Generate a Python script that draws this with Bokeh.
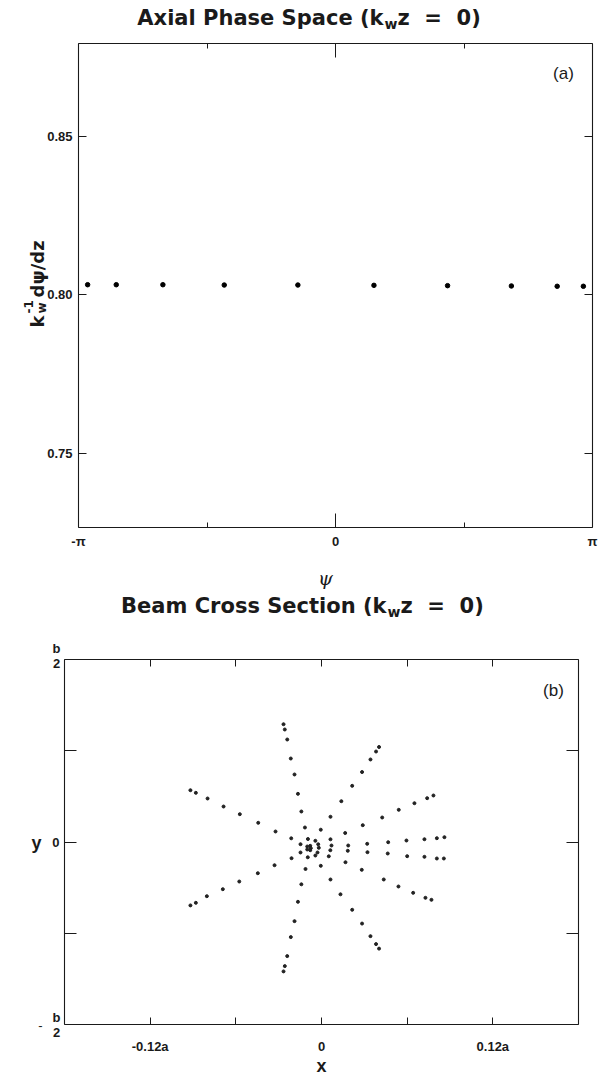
import math
from bokeh.plotting import figure
from bokeh.layouts import column
from bokeh.models import Range1d, Label, LinearAxis, FixedTicker
from bokeh.embed import file_html
from bokeh.resources import INLINE

# ---------------- data ----------------
# (a) axial phase space of the test electrons at k_w z = 0
psi = [-3.03, -2.68, -2.11, -1.36, -0.46, 0.47, 1.37, 2.15, 2.71, 3.03]
dpsi_dz = [0.8031, 0.8031, 0.8031, 0.8030, 0.8030, 0.8029, 0.8028, 0.8027, 0.8026, 0.8026]
psi_ticks = [-math.pi, 0.0, math.pi]
psi_minor_ticks = [-math.pi / 2, math.pi / 2]
psi_tick_labels = ["-π", "0", "π"]
dpsi_ticks = [0.75, 0.80, 0.85]
dpsi_tick_labels = ["0.75", "0.80", "0.85"]

# (b) beam cross section: x in units of a, y in units of b
x_a = [-0.0266, -0.0257, -0.0240, -0.0215, -0.0189, -0.0165, -0.0141, -0.0116, -0.0212,
       -0.0918, -0.0880, -0.0798, -0.0686, -0.0572, -0.0443, -0.0322,
       0.0139, 0.0063, -0.0005, 0.0166, 0.0063, -0.0095, -0.0043, -0.0147, -0.0023,
       0.0070, 0.0187, -0.0100, -0.0079, -0.0075, -0.0100, -0.0079, -0.0019, 0.0062,
       0.0184, -0.0147, -0.0028, -0.0043, 0.0051, -0.0096, -0.0210, 0.0168, -0.0005,
       -0.0329, -0.0112, -0.0446, 0.0063, -0.0141, -0.0576, -0.0691, 0.0133, -0.0803,
       0.0215, 0.0784, 0.0740, 0.0651, 0.0541, 0.0425, 0.0289,
       0.0320, 0.0467, 0.0595, 0.0721, 0.0808, 0.0861,
       0.0322, 0.0464, 0.0600, 0.0721, 0.0808, 0.0857,
       0.0282, 0.0436, 0.0539, 0.0642, 0.0728, 0.0770,
       0.0284, 0.0343, 0.0382, 0.0403,
       0.0215, 0.0284, 0.0343, 0.0382, 0.0403,
       -0.0165, -0.0189, -0.0215, -0.0240, -0.0257, -0.0266,
       -0.0880, -0.0918]
y_b = [0.3227, 0.3082, 0.2808, 0.2287, 0.1850, 0.1320, 0.0836, 0.0397, 0.0101,
       0.1419, 0.1348, 0.1192, 0.0972, 0.0762, 0.0526, 0.0288,
       0.1118, 0.0691, 0.0337, 0.0247, 0.0074, 0.0082, 0.0033, -0.0060, -0.0063,
       -0.0096, -0.0096, -0.0123, -0.0105, -0.0170, -0.0205, -0.0225, -0.0159, -0.0225,
       -0.0241, -0.0287, -0.0287, -0.0370, -0.0392, -0.0419, -0.0444, -0.0554, -0.0652,
       -0.0636, -0.0739, -0.0855, -0.1027, -0.1159, -0.1083, -0.1293, -0.1433, -0.1485,
       0.1539, 0.1274, 0.1200, 0.1063, 0.0882, 0.0671, 0.0461,
       -0.0049, -0.0006, 0.0041, 0.0076, 0.0104, 0.0132,
       -0.0279, -0.0315, -0.0389, -0.0406, -0.0452, -0.0452,
       -0.0762, -0.1027, -0.1219, -0.1392, -0.1529, -0.1584,
       0.1917, 0.2261, 0.2479, 0.2603,
       -0.1857, -0.2235, -0.2579, -0.2797, -0.2921,
       -0.1638, -0.2168, -0.2605, -0.3126, -0.3400, -0.3545,
       -0.1666, -0.1737]
x_ticks = [-0.12, 0.0, 0.12]
x_minor_ticks = [-0.06, 0.06]
x_tick_labels = ["-0.12a", "0", "0.12a"]
y_ticks = [-0.5, -0.25, 0.0, 0.25, 0.5]
y_tick_labels = ["", "", "0", "", ""]

# ---------------- styling ----------------
SANS = "Liberation Sans"
HEAD = "DejaVu Sans"
INK = "#1a1a1a"
W = 601
NB = "\u00a0"  # non-breaking space keeps the wide spacing around "="

PSI_BOX = (-math.pi, math.pi)
DPSI_BOX = (0.7265, 0.8792)
X_BOX = (-0.18, 0.18)
Y_BOX = (-0.5, 0.5)


class Panel:
    """A figure whose frame fills the canvas; the boxed plot area sits at
    the given canvas pixels and its axes are pinned to the box edges."""

    def __init__(self, height, box_px, xb, yb):
        l, r, t, b = box_px
        self.h, self.box, self.xb, self.yb = height, box_px, xb, yb
        self.kx = (xb[1] - xb[0]) / (r - l)
        self.ky = (yb[1] - yb[0]) / (b - t)
        xr = Range1d(xb[0] - l * self.kx, xb[1] + (W - r) * self.kx)
        yr = Range1d(yb[0] - (height - b) * self.ky, yb[1] + t * self.ky)
        p = figure(width=W, height=height, x_range=xr, y_range=yr,
                   output_backend="svg", toolbar_location=None,
                   min_border=0, min_border_left=0, min_border_right=0,
                   min_border_top=0, min_border_bottom=0)
        p.title.visible = False
        p.grid.visible = False
        p.outline_line_color = None
        p.background_fill_color = "white"
        p.border_fill_color = "white"
        self.p = p

    def at(self, px, py):
        l, r, t, b = self.box
        return self.xb[0] + (px - l) * self.kx, self.yb[1] - (py - t) * self.ky

    def axis(self, ax, side, ticks, minor, labels, tick_len, minor_len, standoff):
        horizontal = side in ("below", "above")
        ax.ticker = FixedTicker(ticks=ticks, minor_ticks=minor)
        ax.bounds = self.xb if horizontal else self.yb
        if side == "below":
            ax.fixed_location = self.yb[0]
        elif side == "above":
            ax.fixed_location = self.yb[1]
        elif side == "left":
            ax.fixed_location = self.xb[0]
        else:
            ax.fixed_location = self.xb[1]
        ax.axis_line_color = INK
        ax.axis_line_width = 1.1
        ax.major_tick_in = tick_len
        ax.major_tick_out = 0
        ax.minor_tick_in = minor_len
        ax.minor_tick_out = 0
        ax.major_tick_line_color = INK
        ax.minor_tick_line_color = INK
        ax.major_label_standoff = standoff
        ax.major_label_text_font = SANS
        ax.major_label_text_font_style = "bold"
        ax.major_label_text_font_size = "13px"
        ax.major_label_text_color = INK
        ax.major_label_overrides = dict(zip(ticks, labels)) if labels else {t: "" for t in ticks}
        if ax not in self.p.xaxis and ax not in self.p.yaxis:
            self.p.add_layout(ax, side)

    def text(self, px, py, text, size, font=SANS, style="bold", align="center",
             baseline="middle", angle=0.0):
        x, y = self.at(px, py)
        self.p.add_layout(Label(x=x, y=y, text=text, text_font=font,
                                text_font_style=style, text_font_size=f"{size}px",
                                text_align=align, text_baseline=baseline,
                                text_color=INK, angle=angle))


# ---------------- panel (a) ----------------
A = Panel(590, (78, 592, 43, 527), PSI_BOX, DPSI_BOX)
A.axis(A.p.xaxis[0], "below", psi_ticks, psi_minor_ticks, psi_tick_labels, 14, 5, 6)
A.axis(A.p.yaxis[0], "left", dpsi_ticks, [], dpsi_tick_labels, 8, 0, 6)
A.axis(LinearAxis(), "above", psi_ticks, psi_minor_ticks, None, 14, 5, 0)
A.axis(LinearAxis(), "right", dpsi_ticks, [], None, 8, 0, 0)
A.p.scatter(psi, dpsi_dz, size=4.5, color="black")

A.text(383, 17, "Axial Phase Space (k", 21, font=HEAD, align="right")
A.text(384, 23, "w", 14, font=HEAD, align="left")
A.text(397, 17, f"z{NB}{NB}={NB}{NB}0)", 21, font=HEAD, align="left")
A.text(563, 73, "(a)", 17, style="normal")
A.text(325, 577, "ψ", 19, font="DejaVu Serif", style="italic")
rot = math.pi / 2
A.text(37, 327, "k", 18, font=HEAD, align="left", baseline="alphabetic", angle=rot)
A.text(41, 313, "w", 12, font=HEAD, align="left", baseline="alphabetic", angle=rot)
A.text(28, 313, "-1", 12, font=HEAD, align="left", baseline="alphabetic", angle=rot)
A.text(37, 297, "dψ/dz", 18, font=HEAD, align="left", baseline="alphabetic", angle=rot)

# ---------------- panel (b) ----------------
B_TOP = 590  # page offset of panel (b)
B = Panel(492, (64, 578, 659 - B_TOP, 1024 - B_TOP), X_BOX, Y_BOX)
B.axis(B.p.xaxis[0], "below", x_ticks, x_minor_ticks, x_tick_labels, 7, 7, 14)
B.axis(B.p.yaxis[0], "left", y_ticks, [], y_tick_labels, 12, 0, 5)
B.axis(LinearAxis(), "above", x_ticks, x_minor_ticks, None, 7, 7, 0)
B.axis(LinearAxis(), "right", y_ticks, [], None, 12, 0, 0)
B.p.scatter(x_a, y_b, size=3, color="#222222")


def tb(px, py, *args, **kw):
    B.text(px, py - B_TOP, *args, **kw)


tb(386, 605, "Beam Cross Section (k", 21, font=HEAD, align="right")
tb(387, 611, "w", 14, font=HEAD, align="left")
tb(400, 605, f"z{NB}{NB}={NB}{NB}0)", 21, font=HEAD, align="left")
tb(553, 690, "(b)", 17, style="normal")
tb(36, 842, "y", 18)
tb(321, 1065, "x", 18)
# fractional end labels of the y axis: b/2 and -b/2
tb(56, 648, "b", 13)
tb(56, 663, "2", 13)
tb(56, 1017, "b", 13)
tb(56, 1032, "2", 13)
tb(40, 1025, "-", 13, style="normal")

layout = column(A.p, B.p)
open("out.html", "w").write(file_html(layout, INLINE))
